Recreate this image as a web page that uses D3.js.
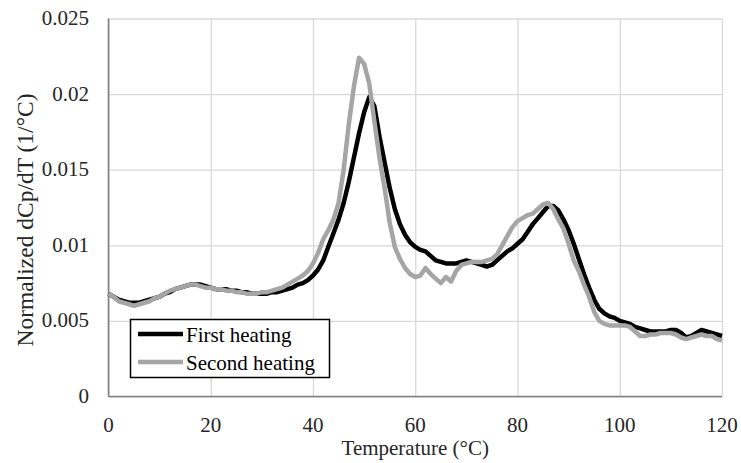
<!DOCTYPE html>
<html>
<head>
<meta charset="utf-8">
<script src="https://cdn.jsdelivr.net/npm/d3@7"></script>
<style>
  body { margin: 0; background: #fff; }
  svg { display: block; }
</style>
</head>
<body>
<svg id="chart"></svg>
<script>
// Temperature (°C)
let temps = [
  0, 1, 2, 3, 4, 5, 6, 7, 8, 9, 10, 11, 12, 13, 14, 15, 16, 17, 18, 19,
  20, 21, 22, 23, 24, 25, 26, 27, 28, 29, 30, 31, 32, 33, 34, 35, 36, 37, 38, 39,
  40, 41, 42, 43, 44, 45, 46, 47, 48, 49, 50, 51, 52, 53, 54, 55, 56, 57, 58, 59,
  60, 61, 62, 63, 64, 65, 66, 67, 68, 69, 70, 71, 72, 73, 74, 75, 76, 77, 78, 79,
  80, 81, 82, 83, 84, 85, 86, 87, 88, 89, 90, 91, 92, 93, 94, 95, 96, 97, 98, 99,
  100, 101, 102, 103, 104, 105, 106, 107, 108, 109, 110, 111, 112, 113, 114, 115, 116, 117, 118, 119,
  120
];

// First heating
let firstHeating = [
  0.0068, 0.0066, 0.0064, 0.0063, 0.0062, 0.0062, 0.0062, 0.0063, 0.0064, 0.0065,
  0.0066, 0.0068, 0.0069, 0.0071, 0.0072, 0.0073, 0.0074, 0.0074, 0.0074, 0.0073,
  0.0072, 0.0071, 0.0071, 0.0071, 0.0070, 0.0070, 0.0069, 0.0069, 0.0068, 0.0068,
  0.0068, 0.0068, 0.0069, 0.0069, 0.0070, 0.0071, 0.0072, 0.0074, 0.0075, 0.0077,
  0.0080, 0.0084, 0.0090, 0.0099, 0.0108, 0.0117, 0.0128, 0.0142, 0.0158, 0.0174,
  0.0188, 0.0198, 0.0192, 0.0172, 0.0155, 0.0138, 0.0124, 0.0114, 0.0107, 0.0102,
  0.0099, 0.0097, 0.0096, 0.0093, 0.0090, 0.0089, 0.0088, 0.0088, 0.0088, 0.0089,
  0.0090, 0.0089, 0.0088, 0.0087, 0.0086, 0.0087, 0.0090, 0.0093, 0.0096, 0.0098,
  0.0101, 0.0104, 0.0109, 0.0114, 0.0118, 0.0122, 0.0126, 0.0126, 0.0123, 0.0117,
  0.0110, 0.0101, 0.0091, 0.0081, 0.0072, 0.0064, 0.0058, 0.0055, 0.0053, 0.0052,
  0.0050, 0.0049, 0.0048, 0.0046, 0.0045, 0.0044, 0.0043, 0.0043, 0.0043, 0.0043,
  0.0044, 0.0044, 0.0042, 0.0039, 0.0040, 0.0042, 0.0044, 0.0043, 0.0042, 0.0041,
  0.0040
];

// Second heating
let secondHeating = [
  0.0068, 0.0066, 0.0063, 0.0062, 0.0061, 0.0060, 0.0061, 0.0062, 0.0063, 0.0065,
  0.0066, 0.0068, 0.0070, 0.0071, 0.0072, 0.0073, 0.0074, 0.0074, 0.0073, 0.0072,
  0.0072, 0.0071, 0.0071, 0.0070, 0.0070, 0.0069, 0.0069, 0.0068, 0.0068, 0.0068,
  0.0069, 0.0069, 0.0070, 0.0071, 0.0072, 0.0074, 0.0076, 0.0078, 0.0080, 0.0083,
  0.0088, 0.0095, 0.0104, 0.0110, 0.0117, 0.0128, 0.0150, 0.0180, 0.0205, 0.0224,
  0.0220, 0.0207, 0.0182, 0.0158, 0.0138, 0.0115, 0.0099, 0.0091, 0.0085, 0.0081,
  0.0079, 0.0080, 0.0085, 0.0081, 0.0078, 0.0075, 0.0079, 0.0076, 0.0083, 0.0087,
  0.0088, 0.0089, 0.0089, 0.0089, 0.0090, 0.0091, 0.0094, 0.0100, 0.0106, 0.0112,
  0.0116, 0.0118, 0.0120, 0.0121, 0.0124, 0.0127, 0.0128, 0.0124, 0.0117, 0.0111,
  0.0101, 0.0090, 0.0083, 0.0074, 0.0066, 0.0056, 0.0050, 0.0048, 0.0047, 0.0047,
  0.0047, 0.0047, 0.0046, 0.0043, 0.0040, 0.0040, 0.0041, 0.0041, 0.0042, 0.0042,
  0.0042, 0.0041, 0.0039, 0.0038, 0.0039, 0.0040, 0.0041, 0.0040, 0.0040, 0.0038,
  0.0037
];

let xTicks = [0, 20, 40, 60, 80, 100, 120];
let yTicks = [0, 0.005, 0.01, 0.015, 0.02, 0.025];
let yTickLabels = ["0", "0.005", "0.01", "0.015", "0.02", "0.025"];
let seriesNames = ["First heating", "Second heating"];
let seriesColors = ["#000000", "#a5a5a5"];

let width = 741;
let height = 463;
let margin = {left: 108.5, right: 19, top: 18.5, bottom: 66.5};
let font = "Liberation Serif";

let svg = d3.select("#chart")
  .attr("width", width)
  .attr("height", height);

let x = d3.scaleLinear().domain([0, 120]).range([margin.left, width - margin.right]);
let y = d3.scaleLinear().domain([0, 0.025]).range([height - margin.bottom, margin.top]);

// сетка
svg.append("g")
  .attr("transform", `translate(0,${height - margin.bottom})`)
  .call(d3.axisBottom(x).tickValues(xTicks).tickSize(-(height - margin.top - margin.bottom)).tickFormat(""))
  .call(g => g.select(".domain").remove())
  .call(g => g.selectAll("line").attr("stroke", "#d9d9d9").attr("stroke-width", 1.3));

svg.append("g")
  .attr("transform", `translate(${margin.left},0)`)
  .call(d3.axisLeft(y).tickValues(yTicks).tickSize(-(width - margin.left - margin.right)).tickFormat(""))
  .call(g => g.select(".domain").remove())
  .call(g => g.selectAll("line").attr("stroke", "#d9d9d9").attr("stroke-width", 1.3));

// оси
svg.append("line")
  .attr("x1", margin.left).attr("x2", margin.left)
  .attr("y1", margin.top).attr("y2", height - margin.bottom)
  .attr("stroke", "#808080").attr("stroke-width", 1.6);
svg.append("line")
  .attr("x1", margin.left).attr("x2", width - margin.right)
  .attr("y1", height - margin.bottom).attr("y2", height - margin.bottom)
  .attr("stroke", "#808080").attr("stroke-width", 1.6);

// подписи делений
svg.append("g")
  .selectAll("text")
  .data(xTicks)
  .join("text")
  .attr("x", d => x(d))
  .attr("y", 431.5)
  .attr("text-anchor", "middle")
  .style("font-family", font)
  .style("font-size", "21px")
  .attr("fill", "#262626")
  .text(d => d);

svg.append("g")
  .selectAll("text")
  .data(yTicks)
  .join("text")
  .attr("x", 89)
  .attr("y", d => y(d) + 6.5)
  .attr("text-anchor", "end")
  .style("font-family", font)
  .style("font-size", "21px")
  .attr("fill", "#262626")
  .text((d, i) => yTickLabels[i]);

// названия осей
svg.append("text")
  .attr("x", (margin.left + width - margin.right) / 2)
  .attr("y", 455)
  .attr("text-anchor", "middle")
  .style("font-family", font)
  .style("font-size", "21px")
  .attr("fill", "#262626")
  .text("Temperature (°C)");

svg.append("text")
  .attr("transform", "translate(33,220) rotate(-90)")
  .attr("text-anchor", "middle")
  .style("font-family", font)
  .style("font-size", "23.5px")
  .attr("fill", "#262626")
  .text("Normalized dCp/dT (1/°C)");

// линии
let line = d3.line()
  .x((d, i) => x(temps[i]))
  .y(d => y(d));

[firstHeating, secondHeating].forEach((values, k) => {
  svg.append("path")
    .datum(values)
    .attr("fill", "none")
    .attr("stroke", seriesColors[k])
    .attr("stroke-width", 4.5)
    .attr("stroke-linejoin", "round")
    .attr("d", line);
});

// легенда
let legend = svg.append("g");
legend.append("rect")
  .attr("x", 130.5).attr("y", 319.5)
  .attr("width", 199).attr("height", 58)
  .attr("fill", "#fff")
  .attr("stroke", "#000")
  .attr("stroke-width", 1.5);

seriesNames.forEach((name, k) => {
  let ly = 334 + k * 28;
  legend.append("line")
    .attr("x1", 138).attr("x2", 183)
    .attr("y1", ly).attr("y2", ly)
    .attr("stroke", seriesColors[k])
    .attr("stroke-width", 4.5);
  legend.append("text")
    .attr("x", 186)
    .attr("y", ly + 7.5)
    .style("font-family", font)
    .style("font-size", "21px")
    .attr("fill", "#000")
    .text(name);
});
</script>
</body>
</html>
